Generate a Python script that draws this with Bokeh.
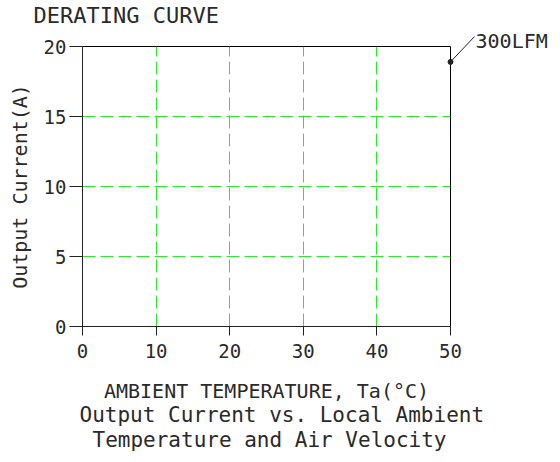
from bokeh.plotting import figure
from bokeh.models import FixedTicker, Range1d, Title
from bokeh.core.properties import value
from bokeh.embed import file_html
from bokeh.resources import INLINE

# Data
x_ticks = [0, 10, 20, 30, 40, 50]
y_ticks = [0, 5, 10, 15, 20]
curve_label = ["300LFM"]
marker_temp = [50]
marker_current = [18.9]
leader_end_x = [53.26]
leader_end_y = [20.71]
label_x = [53.4]
label_y = [20.39]
chart_title = ["DERATING CURVE"]
title_x = [-6.66]
title_y = [22.21]

FONT = "DejaVu Sans Mono"
TXT = "#2a2a2a"

p = figure(width=556, height=460, output_backend="svg", toolbar_location=None,
           x_range=Range1d(0, 50), y_range=Range1d(0, 20),
           min_border_left=82, min_border_right=106,
           min_border_top=46, min_border_bottom=134)
p.background_fill_color = "white"
p.border_fill_color = "white"
p.outline_line_color = "black"
p.outline_line_width = 1

p.xaxis.ticker = FixedTicker(ticks=x_ticks)
p.yaxis.ticker = FixedTicker(ticks=y_ticks)
for ax in (p.xaxis, p.yaxis):
    ax.axis_line_color = "#222222"
    ax.major_tick_line_color = "#222222"
    ax.minor_tick_line_color = None
    ax.major_tick_in = 0
    ax.major_label_text_font = FONT
    ax.major_label_text_font_size = "19px"
    ax.major_label_text_color = TXT
    ax.axis_label_text_font = FONT
    ax.axis_label_text_font_size = "20px"
    ax.axis_label_text_font_style = "normal"
    ax.axis_label_text_color = TXT
p.xaxis.major_tick_out = 9
p.yaxis.major_tick_out = 13
p.xaxis.major_label_standoff = 8
p.yaxis.major_label_standoff = 3
p.xaxis.axis_label = "AMBIENT TEMPERATURE, Ta(°C)"
p.yaxis.axis_label = "Output Current(A)"
p.xaxis.axis_label_standoff = 18
p.yaxis.axis_label_standoff = 9

for g in (p.xgrid, p.ygrid):
    g.grid_line_color = "#2ee82e"
    g.grid_line_width = 1
    g.grid_line_dash = "13 5"

# bottom caption lines
p.add_layout(Title(text="Output Current vs. Local Ambient", align="left", offset=-3,
                   text_font=FONT, text_font_size="21px", text_font_style="normal",
                   text_color=TXT, standoff=-9), "below")
p.add_layout(Title(text="Temperature and Air Velocity", align="left", offset=10,
                   text_font=FONT, text_font_size="21px", text_font_style="normal",
                   text_color=TXT, standoff=6), "below")

# chart title (overlay level so it is not clipped to the frame)
p.text(x=title_x, y=title_y, text=chart_title, text_font=value(FONT),
       text_font_size="22px", text_color=TXT, text_baseline="middle",
       text_align="left", level="overlay")

# marker point, leader and its label
p.segment(x0=marker_temp, y0=marker_current, x1=leader_end_x, y1=leader_end_y,
          line_color="#222222", line_width=1, level="overlay")
p.scatter(marker_temp, marker_current, size=5, color="#222222", level="overlay")
p.text(x=label_x, y=label_y, text=curve_label, text_font=value(FONT),
       text_font_size="20px", text_color=TXT, text_baseline="middle",
       text_align="left", level="overlay")

open("out.html", "w").write(file_html(p, INLINE))
